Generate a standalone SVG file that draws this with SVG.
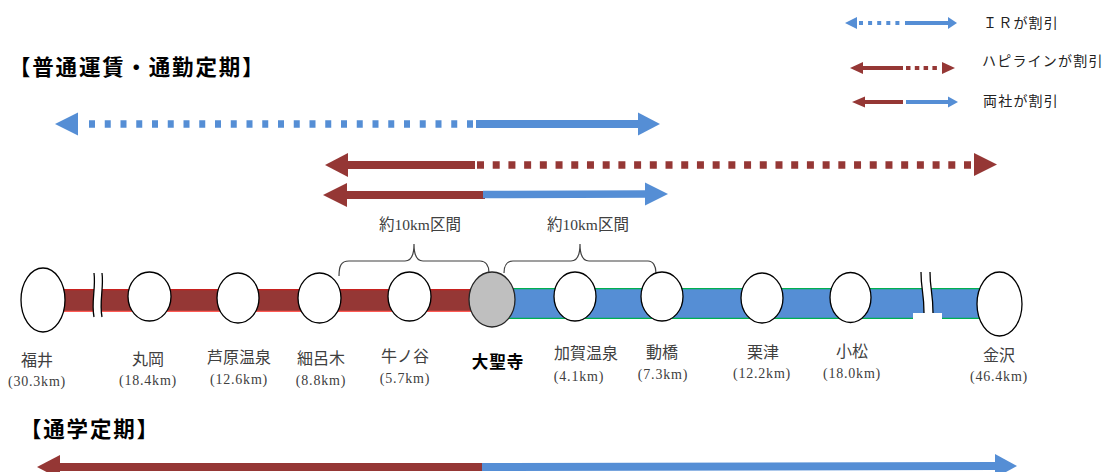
<svg xmlns="http://www.w3.org/2000/svg" width="1114" height="472" viewBox="0 0 1114 472">
<style>
.title{font-family:"Noto Sans CJK JP","Noto Sans",sans-serif;font-weight:bold;font-size:21.5px;letter-spacing:1.8px;fill:#000}
.leg{font-family:"Noto Sans CJK JP","Noto Sans",sans-serif;font-size:14px;letter-spacing:1.2px;fill:#222}
.st{font-family:"Liberation Serif","Noto Sans CJK JP",serif;font-size:16px;fill:#404040;text-anchor:middle}
.km{font-family:"Liberation Serif","Noto Sans CJK JP",serif;font-size:14px;letter-spacing:0.8px;fill:#404040;text-anchor:middle}
.span{font-family:"Liberation Serif","Noto Sans CJK JP",serif;font-size:15.5px;fill:#404040;text-anchor:middle}
.bold{font-family:"Noto Sans CJK JP","Noto Sans",sans-serif;font-weight:bold;font-size:16.5px;letter-spacing:1px;fill:#000;text-anchor:middle}
.stn{fill:#fff;stroke:#000;stroke-width:1.3}
.red{stroke:#953735;fill:none}
.blue{stroke:#558ed5;fill:none}
.rh{fill:#953735}
.bh{fill:#558ed5}
.brace{fill:none;stroke:#404040;stroke-width:1.2}
</style>

<!-- titles -->
<text class="title" x="9" y="75">【普通運賃・通勤定期】</text>
<text class="title" x="20" y="437">【通学定期】</text>

<!-- legend -->
<g id="legend">
  <g id="legend-ir">
    <polygon class="bh" points="845,23 857,17 857,29"/>
    <line class="blue" x1="859" y1="23" x2="902" y2="23" stroke-width="4.2" stroke-dasharray="4 5.1"/>
    <line class="blue" x1="905" y1="23" x2="949" y2="23" stroke-width="4.2"/>
    <polygon class="bh" points="948,17 957,23 948,29"/>
    <text class="leg" x="983" y="28">ＩＲが割引</text>
  </g>
  <g id="legend-hapi">
    <polygon class="rh" points="850,68 863,62 863,74"/>
    <line class="red" x1="862" y1="68" x2="903" y2="68" stroke-width="4.2"/>
    <line class="red" x1="906" y1="68" x2="940" y2="68" stroke-width="4.2" stroke-dasharray="4.5 4.3"/>
    <polygon class="rh" points="942,62 955,68 942,74"/>
    <text class="leg" x="982" y="66">ハピラインが割引</text>
  </g>
  <g id="legend-both">
    <polygon class="rh" points="852,102 865,96.5 865,107.5"/>
    <line class="red" x1="864" y1="102" x2="903" y2="102" stroke-width="4.2"/>
    <line class="blue" x1="906" y1="102" x2="949" y2="102" stroke-width="4.2"/>
    <polygon class="bh" points="948,96.5 958,102 948,107.5"/>
    <text class="leg" x="983" y="106">両社が割引</text>
  </g>
</g>

<!-- fare range arrows -->
<g id="arrow-ir">
  <polygon class="bh" points="55,124 78,112.5 78,135.5"/>
  <line class="blue" x1="89" y1="124" x2="473" y2="124" stroke-width="7.5" stroke-dasharray="6 9.75"/>
  <line class="blue" x1="476" y1="124" x2="639" y2="124" stroke-width="8"/>
  <polygon class="bh" points="638,112.5 660,124 638,135.5"/>
</g>
<g id="arrow-hapi">
  <polygon class="rh" points="325,165 348,153 348,177"/>
  <line class="red" x1="347" y1="165" x2="475" y2="165" stroke-width="8"/>
  <line class="red" x1="477" y1="165" x2="971" y2="165" stroke-width="7.5" stroke-dasharray="7 8.71"/>
  <polygon class="rh" points="974,153 997,164.5 974,176"/>
</g>
<g id="arrow-both">
  <polygon class="rh" points="323,195 347,183 347,207"/>
  <line class="red" x1="346" y1="195" x2="485" y2="195" stroke-width="8"/>
  <line class="blue" x1="483" y1="194.5" x2="646" y2="194" stroke-width="7.5"/>
  <polygon class="bh" points="645,182.5 668,194 645,205.5"/>
</g>
<g id="arrow-student">
  <polygon class="rh" points="37,467 60,455 60,479"/>
  <line class="red" x1="59" y1="467" x2="483" y2="467" stroke-width="8"/>
  <line class="blue" x1="482" y1="467" x2="996" y2="466" stroke-width="8"/>
  <polygon class="bh" points="995,454 1017,466 995,478"/>
</g>

<!-- track (connectors) -->
<g id="connectors">
  <rect x="60" y="289" width="412" height="23" fill="#953735"/>
  <line x1="60" y1="289.6" x2="472" y2="289.6" stroke="#c8201e" stroke-width="1.3"/>
  <line x1="60" y1="311.4" x2="472" y2="311.4" stroke="#ff5b55" stroke-width="1.3"/>
  <rect x="505" y="288" width="478" height="31" fill="#558ed5"/>
  <line x1="505" y1="288.6" x2="983" y2="288.6" stroke="#00b050" stroke-width="1.4"/>
  <line x1="505" y1="318.4" x2="983" y2="318.4" stroke="#00b050" stroke-width="1.4"/>
  <!-- break marks -->
  <path d="M94,273 C96,288 91,302 94,317 L102,317 C99,302 104,288 102,273 Z" fill="#fff"/>
  <path d="M94,273 C96,288 91,302 94,317" fill="none" stroke="#000" stroke-width="1.3"/>
  <path d="M102,273 C104,288 99,302 102,317" fill="none" stroke="#000" stroke-width="1.3"/>
  <rect x="913" y="313" width="29" height="8" fill="#fff"/>
  <path d="M921,272 C921,290 924,292 924,313 L933,313 C933,292 930,290 930,272 Z" fill="#fff"/>
  <path d="M921,272 C921,290 924,292 924,313" fill="none" stroke="#000" stroke-width="1.3"/>
  <path d="M930,272 C930,290 933,292 933,313" fill="none" stroke="#000" stroke-width="1.3"/>
</g>

<!-- braces -->
<g id="braces">
  <path class="brace" d="M339,276 C339,266 341,261 349,261 L405,261 C411,261 414,256 414,244 C414,256 417,261 423,261 L480,261 C486,261 489,266 489,273"/>
  <text class="span" x="420" y="230">約10km区間</text>
  <path class="brace" d="M504,273 C504,266 507,261 513,261 L571,261 C577,261 580,256 580,244 C580,256 583,261 589,261 L648,261 C653,261 656,266 656,273"/>
  <text class="span" x="588" y="230">約10km区間</text>
</g>

<!-- stations -->
<g id="st-fukui"><ellipse class="stn" cx="43" cy="300" rx="22" ry="32"/><text class="st" x="37" y="366">福井</text><text class="km" x="37" y="386">(30.3km)</text></g>
<g id="st-maruoka"><ellipse class="stn" cx="149.5" cy="296.5" rx="21.5" ry="24.5"/><text class="st" x="148" y="365">丸岡</text><text class="km" x="148" y="385">(18.4km)</text></g>
<g id="st-awaraonsen"><ellipse class="stn" cx="238" cy="298" rx="21" ry="25"/><text class="st" x="239" y="363">芦原温泉</text><text class="km" x="239" y="384">(12.6km)</text></g>
<g id="st-hosorogi"><ellipse class="stn" cx="319.5" cy="298" rx="21.5" ry="25"/><text class="st" x="321" y="364">細呂木</text><text class="km" x="321" y="385">(8.8km)</text></g>
<g id="st-ushinoya"><ellipse class="stn" cx="409.5" cy="296.5" rx="21.5" ry="24.5"/><text class="st" x="405" y="362">牛ノ谷</text><text class="km" x="405" y="383">(5.7km)</text></g>
<g id="st-daishoji"><ellipse cx="492" cy="299.5" rx="23" ry="27.5" fill="#bfbfbf" stroke="#262626" stroke-width="1.3"/><text class="bold" x="498" y="368">大聖寺</text></g>
<g id="st-kagaonsen"><ellipse class="stn" cx="575" cy="296.5" rx="21" ry="24.5"/><text class="st" x="586" y="359">加賀温泉</text><text class="km" x="579" y="381">(4.1km)</text></g>
<g id="st-iburihashi"><ellipse class="stn" cx="662" cy="296.5" rx="21" ry="24.5"/><text class="st" x="662" y="358">動橋</text><text class="km" x="663" y="379">(7.3km)</text></g>
<g id="st-awazu"><ellipse class="stn" cx="762" cy="298" rx="21" ry="25"/><text class="st" x="763" y="358">栗津</text><text class="km" x="762" y="378">(12.2km)</text></g>
<g id="st-komatsu"><ellipse class="stn" cx="850.5" cy="297.5" rx="20.5" ry="25"/><text class="st" x="852" y="357">小松</text><text class="km" x="852" y="378">(18.0km)</text></g>
<g id="st-kanazawa"><ellipse class="stn" cx="999.5" cy="304" rx="22.5" ry="32"/><text class="st" x="999" y="361">金沢</text><text class="km" x="999" y="381">(46.4km)</text></g>
</svg>
